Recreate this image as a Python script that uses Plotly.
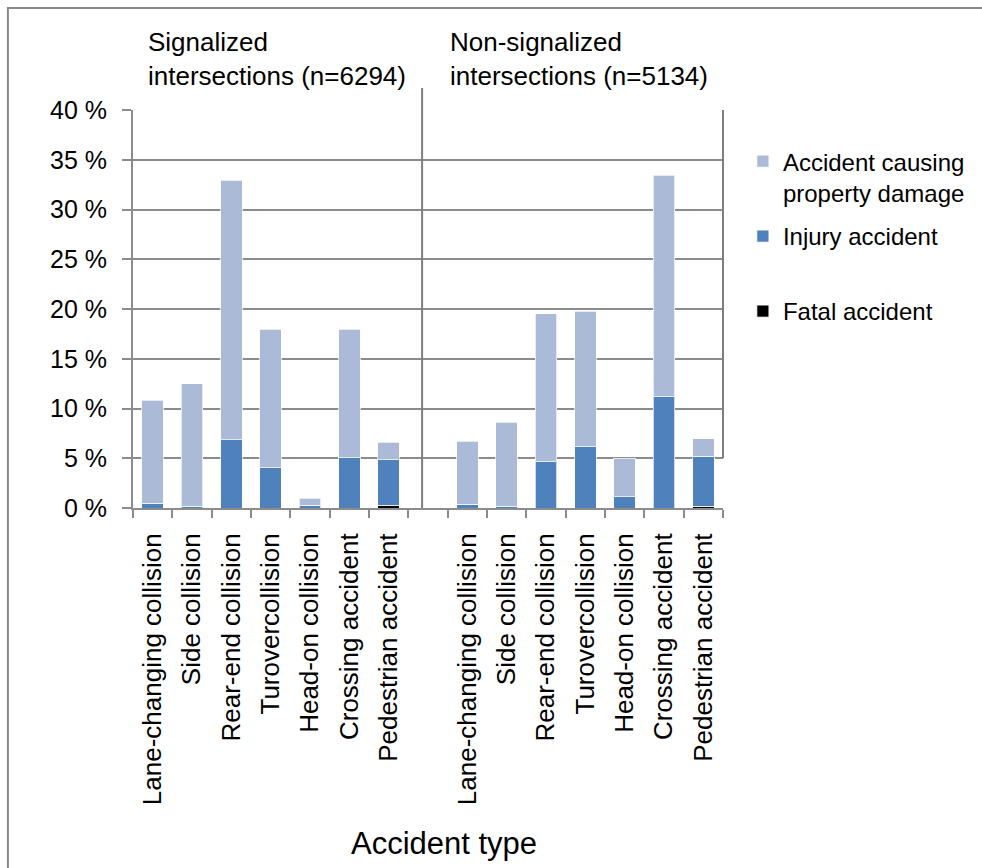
import plotly.graph_objects as go

# ---- data ----
categories = ["Lane-changing collision", "Side collision", "Rear-end collision",
              "Turovercollision", "Head-on collision", "Crossing accident",
              "Pedestrian accident"]

group_labels = ["Signalized<br>intersections (n=6294)",
                "Non-signalized<br>intersections (n=5134)"]

sig_fatal = [0.0, 0.0, 0.0, 0.0, 0.0, 0.0, 0.27]
sig_injury = [0.50, 0.17, 6.85, 4.03, 0.27, 5.04, 4.60]
sig_property = [10.32, 12.33, 26.11, 13.92, 0.73, 12.91, 1.72]

non_fatal = [0.0, 0.0, 0.0, 0.0, 0.0, 0.0, 0.17]
non_injury = [0.37, 0.17, 4.67, 6.18, 1.14, 11.16, 5.01]
non_property = [6.35, 8.47, 14.83, 13.58, 3.86, 22.29, 1.78]

y_ticks = [0, 5, 10, 15, 20, 25, 30, 35, 40]

series_names = ["Fatal accident", "Injury accident",
                "Accident causing<br>property damage"]
series_colors = ["#000000", "#4F81BD", "#AABAD7"]

# ---- positions: group 1 in slots 0..6, empty slot 7, group 2 in slots 8..14 ----
n = len(categories)
x_pos = list(range(n)) + [n + 1 + i for i in range(n)]
tick_text = categories + categories

series_values = [sig_fatal + non_fatal,
                 sig_injury + non_injury,
                 sig_property + non_property]

FONT = "Liberation Sans, Arial, sans-serif"
GRID = "#8C8C8C"

# each series gets its own legend box so the entries can be spaced like the original
legend_ids = ["legend3", "legend2", "legend"]
legend_tops = [0.5503, 0.7387, 0.927]

fig = go.Figure()
for name, vals, col, lid in zip(series_names, series_values, series_colors, legend_ids):
    fig.add_trace(go.Bar(
        x=x_pos, y=vals, name=name, legend=lid,
        marker=dict(color=col, line=dict(color="rgba(255,255,255,0.7)", width=1)),
        width=0.55,
    ))

legend_style = dict(x=1.0337, xanchor="left", yanchor="top", valign="top",
                    font=dict(size=24, family=FONT, color="#000000"),
                    bgcolor="rgba(0,0,0,0)")

fig.update_layout(
    width=982, height=868,
    barmode="stack",
    paper_bgcolor="white", plot_bgcolor="white",
    margin=dict(l=133, r=255, t=110, b=360, pad=0),
    font=dict(family=FONT, color="#000000"),
    showlegend=True,
    legend=dict(y=legend_tops[2], **legend_style),
    legend2=dict(y=legend_tops[1], **legend_style),
    legend3=dict(y=legend_tops[0], **legend_style),
    xaxis=dict(
        range=[-0.5, 2 * n + 0.5],
        tickmode="array", tickvals=x_pos, ticktext=tick_text,
        tickangle=-90, ticks="", ticklabelstandoff=13,
        tickfont=dict(size=26, family=FONT, color="#000000"),
        showgrid=False, zeroline=False,
        showline=True, linecolor=GRID, linewidth=2,
        minor=dict(tickmode="linear", tick0=-0.5, dtick=1, ticks="outside",
                   ticklen=8, tickwidth=1.5, tickcolor=GRID, showgrid=False),
        fixedrange=True,
    ),
    yaxis=dict(
        range=[0, 40], tickmode="array", tickvals=y_ticks,
        ticktext=[f"{v} %" for v in y_ticks],
        ticks="outside", ticklen=9, tickwidth=1.5, tickcolor=GRID,
        ticklabelstandoff=10,
        tickfont=dict(size=25, family=FONT, color="#000000"),
        showgrid=True, gridcolor=GRID, gridwidth=1.5,
        zeroline=False, showline=True, linecolor=GRID, linewidth=2,
        fixedrange=True,
    ),
)

# group headers
fig.add_annotation(text=group_labels[0], xref="paper", yref="paper",
                   x=0.022, y=1.128, xanchor="left", yanchor="middle",
                   align="left", showarrow=False,
                   font=dict(size=26, family=FONT, color="#000000"))
fig.add_annotation(text=group_labels[1], xref="paper", yref="paper",
                   x=0.534, y=1.128, xanchor="left", yanchor="middle",
                   align="left", showarrow=False,
                   font=dict(size=26, family=FONT, color="#000000"))

# axis title
fig.add_annotation(text="Accident type", xref="paper", yref="paper",
                   x=0.527, y=-0.842, xanchor="center", yanchor="middle",
                   showarrow=False,
                   font=dict(size=31, family=FONT, color="#000000"))

# separator between the two groups
fig.add_shape(type="line", xref="paper", yref="paper",
              x0=0.49, x1=0.49, y0=0, y1=1.055,
              line=dict(color="#7F7F7F", width=2))
# partial right border
fig.add_shape(type="line", xref="paper", yref="y",
              x0=1, x1=1, y0=5, y1=40,
              line=dict(color="#7F7F7F", width=2))
# outer frame
fig.add_shape(type="rect", xref="paper", yref="paper",
              x0=-0.212, x1=2.0, y0=-2.0, y1=1.256,
              line=dict(color="#8A8A8A", width=2), fillcolor="rgba(0,0,0,0)",
              layer="below")

fig.write_html("out.html",
               config={"displayModeBar": False},
               post_script="document.body.style.margin='0px';"
                           "document.body.style.overflow='hidden';")
